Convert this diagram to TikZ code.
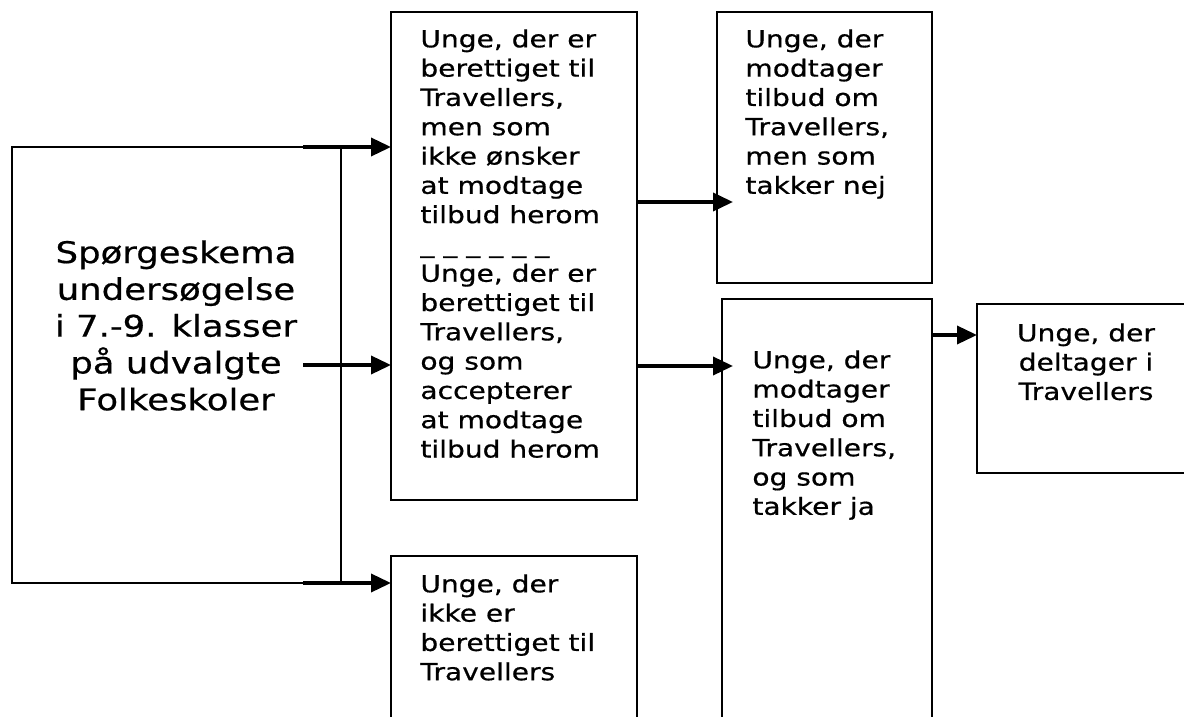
\documentclass[tikz,border=0pt]{standalone}
\usepackage{fontspec}
\setmainfont{DejaVu Sans}[FakeStretch=1.19,FakeBold=0.6]
\usetikzlibrary{arrows.meta,fit}
\begin{document}
\begin{tikzpicture}[x=0.5pt,y=-0.5pt,
  box/.style={draw, line width=1.2pt, inner sep=0pt, outer sep=0pt},
  txt/.style={inner sep=0pt, align=left, font=\fontsize{11.8}{14.65}\selectfont},
  bigtxt/.style={inner sep=0pt, align=center, font=\fontsize{14.9}{18.4}\selectfont},
  arr/.style={line width=1.8pt, -{Triangle[length=10pt,width=9pt]}}]
\useasboundingbox (0,0) rectangle (1184,717);
\clip (0,0) rectangle (1184,717);
% boxes
\node[box, fit={(12,147) (341,583)}] (L) {};
\node[box, fit={(391,12) (637,500)}] (B2) {};
\node[box, fit={(717,12) (932,283)}] (B3) {};
\node[box, fit={(722,299) (932,740)}] (B4) {};
\node[box, fit={(391,556) (637,740)}] (B5) {};
\node[box, fit={(977,304) (1200,473)}] (B6) {};
% texts
\node[bigtxt, anchor=north] (Lt) at (176,240) {Spørgeskema\\undersøgelse\\i 7.-9. klasser\\på udvalgte\\Folkeskoler};
\node[txt, anchor=north west] (B2t) at (420,29) {Unge, der er\\berettiget til\\Travellers,\\men som\\ikke ønsker\\at modtage\\tilbud herom\\\_ \_ \_ \_ \_ \_\\Unge, der er\\berettiget til\\Travellers,\\og som\\accepterer\\at modtage\\tilbud herom};
\node[txt, anchor=north west] (B3t) at (745,29) {Unge, der\\modtager\\tilbud om\\Travellers,\\men som\\takker nej};
\node[txt, anchor=north west] (B4t) at (752,350) {Unge, der\\modtager\\tilbud om\\Travellers,\\og som\\takker ja};
\node[txt, anchor=north west] (B5t) at (420,574) {Unge, der\\ikke er\\berettiget til\\Travellers};
\node[txt, align=center, anchor=north] (B6t) at (1086,323) {Unge, der\\deltager i\\Travellers};
% connector points
\coordinate (s1) at (303,147);
\coordinate (s2) at (303,365);
\coordinate (s3) at (303,583);
\coordinate (t3) at (733,202);
\coordinate (t4) at (733,366);
\coordinate (s6) at (931,335);
% connectors
\draw[arr] (s1) -- (s1 -| B2.west);
\draw[arr] (s2) -- (s2 -| B2.west);
\draw[arr] (s3) -- (s3 -| B5.west);
\draw[arr] (B2.east |- t3) -- (t3);
\draw[arr] (B2.east |- t4) -- (t4);
\draw[arr] (B4.east |- s6) -- (s6 -| B6.west);
\end{tikzpicture}
\end{document}
